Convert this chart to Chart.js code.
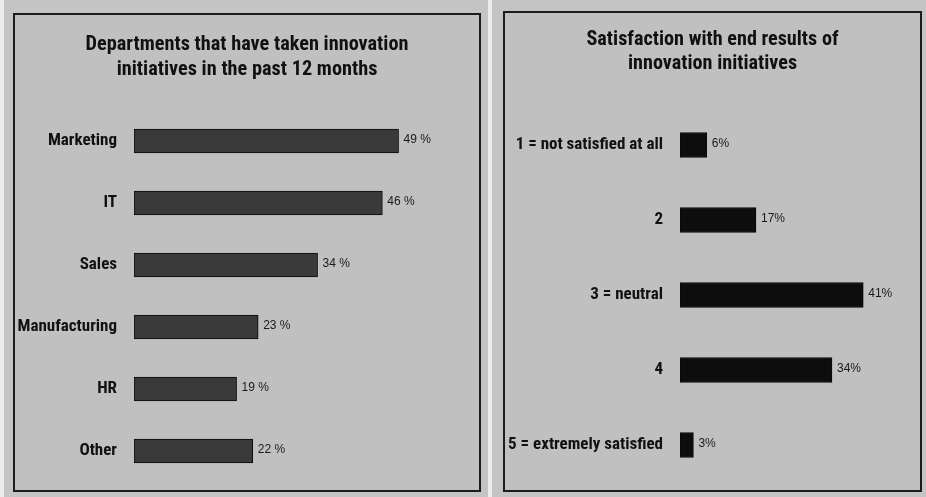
<!DOCTYPE html>
<html>
<head>
<meta charset="utf-8">
<script src="https://cdn.jsdelivr.net/npm/chart.js@4/dist/chart.umd.min.js"></script>
<style>
  html, body { margin: 0; padding: 0; }
  body { width: 926px; height: 497px; background: #c4c4c4; position: relative; overflow: hidden; }
  .edge { position: absolute; top: 0; height: 497px; background: #ececec; }
  .panel { position: absolute; border: 2px solid #1c1c1c; background: #c0c0c0; box-sizing: content-box; }
  .panel canvas { display: block; }
</style>
</head>
<body>
<div class="edge" style="left:0;width:4px;"></div>
<div class="edge" style="left:488px;width:4px;"></div>
<div class="panel" style="left:13px;top:13px;width:464px;height:475px;"><canvas id="dept"></canvas></div>
<div class="panel" style="left:503px;top:11px;width:415px;height:477px;"><canvas id="satis"></canvas></div>
<script>
// Departments chart
const deptCategories = ['Marketing', 'IT', 'Sales', 'Manufacturing', 'HR', 'Other'];
const deptValues = [49, 46, 34, 23, 19, 22];
const deptTitle = ['Departments that have taken innovation', 'initiatives in the past 12 months'];

// Satisfaction chart
const satisCategories = ['1 = not satisfied at all', '2', '3 = neutral', '4', '5 = extremely satisfied'];
const satisValues = [6, 17, 41, 34, 3];
const satisTitle = ['Satisfaction with end results of', 'innovation initiatives'];

const NARROW = "'Roboto Condensed', 'Liberation Sans Narrow', 'DejaVu Sans Condensed', sans-serif";
const PLAIN = "'Liberation Sans', Arial, sans-serif";

// Writes each bar's value just past its end
const valueLabels = {
  id: 'valueLabels',
  afterDatasetsDraw(chart, args, opts) {
    const ctx = chart.ctx;
    const ds = chart.data.datasets[0];
    const meta = chart.getDatasetMeta(0);
    ctx.save();
    ctx.font = `${opts.size || 12}px ${PLAIN}`;
    ctx.fillStyle = '#1a1a1a';
    ctx.textAlign = 'left';
    ctx.textBaseline = 'middle';
    meta.data.forEach((bar, i) => {
      ctx.fillText(ds.data[i] + (opts.sep || '') + '%', bar.x + (opts.gap || 5), bar.y - 1);
    });
    ctx.restore();
  }
};

function makeChart(id, w, h, cfg) {
  const canvas = document.getElementById(id);
  canvas.width = w; canvas.height = h;
  canvas.style.width = w + 'px'; canvas.style.height = h + 'px';
  return new Chart(canvas, {
    type: 'bar',
    data: {
      labels: cfg.labels,
      datasets: [{
        data: cfg.values,
        backgroundColor: cfg.fill,
        borderColor: '#0a0a0a',
        borderWidth: 1,
        borderSkipped: false,
        barThickness: cfg.thickness
      }]
    },
    plugins: [valueLabels],
    options: {
      indexAxis: 'y',
      responsive: false,
      animation: false,
      devicePixelRatio: 1,
      layout: { padding: { left: 0, right: 0, top: 0, bottom: cfg.padBottom } },
      scales: {
        x: { display: false, min: 0, max: cfg.xMax },
        y: {
          grid: { display: false, drawTicks: false },
          border: { display: false },
          ticks: { color: '#111', padding: cfg.tickPad, font: { family: NARROW, size: cfg.tickSize, weight: 'bold' } },
          afterFit(scale) {
            scale.width = cfg.axisWidth;
            scale.paddingTop = 0;
            scale.paddingBottom = 0;
          }
        }
      },
      plugins: {
        legend: { display: false },
        tooltip: { enabled: false },
        title: {
          display: true,
          text: cfg.title,
          color: '#111',
          font: { family: NARROW, size: cfg.titleSize, weight: 'bold', lineHeight: cfg.titleLine + 'px' },
          padding: { top: cfg.titleTop, bottom: cfg.titleBottom }
        },
        valueLabels: { sep: cfg.sep, gap: 5, size: 12 }
      }
    }
  });
}

makeChart('dept', 464, 475, {
  labels: deptCategories, values: deptValues, title: deptTitle,
  fill: '#3a3a3a', thickness: 24, xMax: 63.9, padBottom: 8,
  axisWidth: 119, tickPad: 17, tickSize: 17,
  titleSize: 20.3, titleLine: 25, titleTop: 17.5, titleBottom: 27.5, sep: ' '
});

makeChart('satis', 415, 477, {
  labels: satisCategories, values: satisValues, title: satisTitle,
  fill: '#0d0d0d', thickness: 25, xMax: 53.7, padBottom: 7.5,
  axisWidth: 175, tickPad: 17, tickSize: 17,
  titleSize: 20.2, titleLine: 24, titleTop: 14.5, titleBottom: 32, sep: ''
});
</script>
</body>
</html>
